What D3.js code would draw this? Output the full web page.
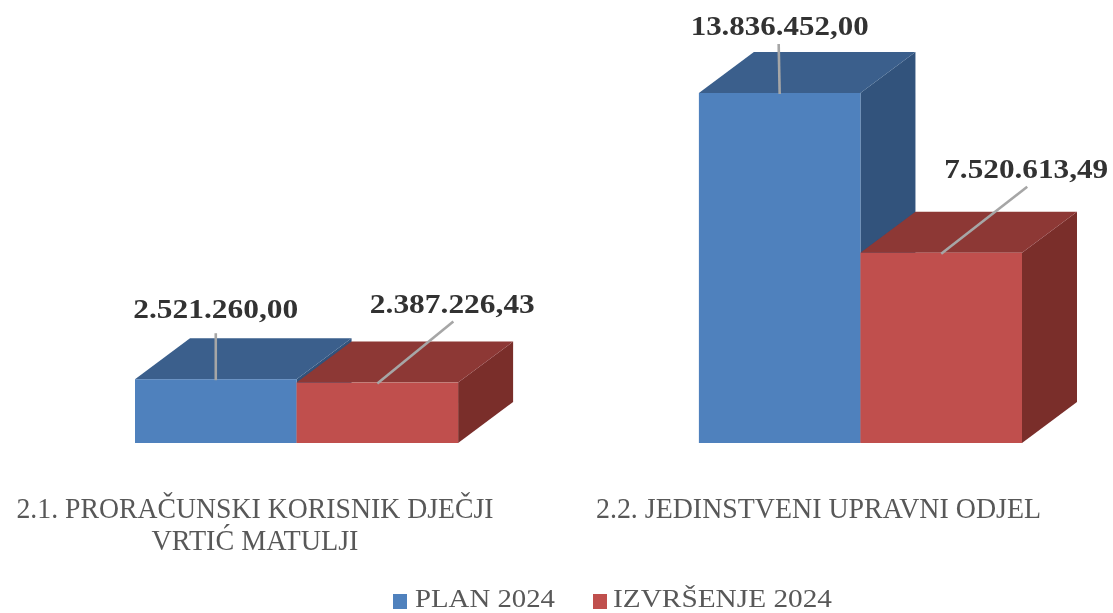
<!DOCTYPE html>
<html><head><meta charset="utf-8">
<script src="https://cdn.jsdelivr.net/npm/d3@7/dist/d3.min.js"></script>
<style>html,body{margin:0;padding:0;background:#fff}svg{display:block}text{font-family:"Liberation Serif",serif}</style>
</head><body><svg id="c" width="1113" height="613"></svg>
<script>
const categories = ["2.1. PRORAČUNSKI KORISNIK DJEČJI|VRTIĆ MATULJI", "2.2. JEDINSTVENI UPRAVNI ODJEL"];
const seriesNames = ["PLAN 2024", "IZVRŠENJE 2024"];
const planValues = [2521260.00, 13836452.00];
const izvrsenjeValues = [2387226.43, 7520613.49];

const W = 1113, H = 613, base = 443, dx = 55, dy = 41;
const svg = d3.select("#c");
const defs = svg.append("defs");
defs.append("filter").attr("id","soft").append("feGaussianBlur").attr("stdDeviation",0.6);
const root = svg.append("g").attr("filter","url(#soft)");

const colors = [
  {front:"#4f81bd", top:"#3a5f8c", side:"#30527c"},
  {front:"#c0504d", top:"#8d3835", side:"#7a2e2c"}
];
const series = [planValues, izvrsenjeValues];
const x0 = d3.scaleBand().domain(categories).range([135,1022]).paddingInner(0.427);
const x1 = d3.scaleBand().domain([0,1]).range([0,x0.bandwidth()]);
const y = d3.scaleLinear().domain([0,d3.max(planValues)]).range([base,93]);
const fmt = d3.formatLocale({decimal:",",thousands:".",grouping:[3],currency:["",""]}).format(",.2f");
const poly = pts => "M"+pts.map(p=>p.join(",")).join("L")+"Z";

categories.forEach((c,ci)=>{
  series.forEach((vals,si)=>{
    const xl = x0(c)+x1(si), xr = xl+x1.bandwidth(), yt = y(vals[ci]), col = colors[si];
    const g = root.append("g");
    g.append("path").attr("d",poly([[xr,yt],[xr+dx,yt-dy],[xr+dx,base-dy],[xr,base]])).attr("fill",col.side);
    g.append("path").attr("d",poly([[xl,yt],[xl+dx,yt-dy],[xr+dx,yt-dy],[xr,yt]])).attr("fill",col.top);
    g.append("rect").attr("x",xl).attr("y",yt).attr("width",xr-xl).attr("height",base-yt).attr("fill",col.front);
  });
});

// Leader lines and value labels: offsets from each bar's top-front centre
const labelOffsets = [
  [{lx:0,ly:-46,tx:0,ty:-61,tw:165},{lx:76,ly:-61,tx:75,ty:-70,tw:165}],
  [{lx:-1,ly:-49,tx:0,ty:-58,tw:178},{lx:86,ly:-66,tx:85,ty:-75,tw:164}]
];
categories.forEach((c,ci)=>{
  series.forEach((vals,si)=>{
    const cx = x0(c)+x1(si)+x1.bandwidth()/2, yt = y(vals[ci]), o = labelOffsets[ci][si];
    root.append("line").attr("x1",cx).attr("y1",yt+1).attr("x2",cx+o.lx).attr("y2",yt+o.ly)
      .attr("stroke","#a6a6a6").attr("stroke-width",2.6);
  });
});
categories.forEach((c,ci)=>{
  series.forEach((vals,si)=>{
    const cx = x0(c)+x1(si)+x1.bandwidth()/2, yt = y(vals[ci]), o = labelOffsets[ci][si];
    root.append("text").attr("x",cx+o.tx).attr("y",yt+o.ty).attr("text-anchor","middle")
      .attr("font-size",28).attr("font-weight","bold").attr("fill","#333333")
      .attr("textLength",o.tw).attr("lengthAdjust","spacingAndGlyphs").text(fmt(vals[ci]));
  });
});

// Category labels
const catLayout = [
  {cx:255, lines:[{y:518,w:477},{y:550,w:207}]},
  {cx:818.5, lines:[{y:518,w:445}]}
];
categories.forEach((c,ci)=>{
  c.split("|").forEach((t,i)=>{
    root.append("text").attr("x",catLayout[ci].cx).attr("y",catLayout[ci].lines[i].y)
      .attr("text-anchor","middle").attr("font-size",29).attr("fill","#595959")
      .attr("textLength",catLayout[ci].lines[i].w).attr("lengthAdjust","spacingAndGlyphs").text(t);
  });
});

// Legend
const legendX = [{sq:393,tx:415,w:140},{sq:593,tx:613,w:219}];
seriesNames.forEach((n,i)=>{
  root.append("rect").attr("x",legendX[i].sq).attr("y",594).attr("width",14).attr("height",15).attr("fill",colors[i].front);
  root.append("text").attr("x",legendX[i].tx).attr("y",607).attr("font-size",26).attr("fill","#595959")
    .attr("textLength",legendX[i].w).attr("lengthAdjust","spacingAndGlyphs").text(n);
});
</script></body></html>
